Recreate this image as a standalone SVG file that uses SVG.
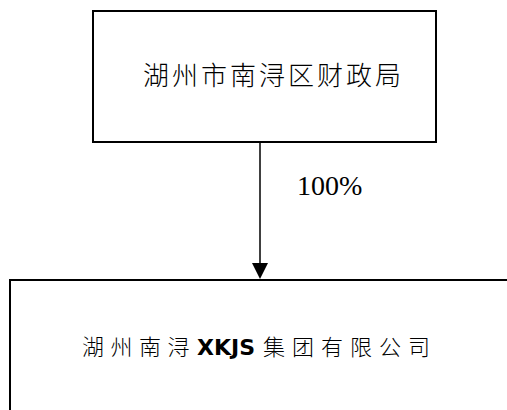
<svg xmlns="http://www.w3.org/2000/svg" width="507" height="410" viewBox="0 0 507 410">
<style>
.box{fill:#fff;stroke:#000;stroke-width:2}
.cjk{font-family:"Noto Sans CJK SC","Noto Sans",sans-serif;fill:#000;font-weight:300}
.lat{font-family:"DejaVu Sans",sans-serif;font-weight:bold}
.lbl{font-family:"Liberation Serif",serif;fill:#000}
</style>
<rect width="507" height="410" fill="#fff"/>
<g id="node-finance">
<rect class="box" x="93" y="11" width="343" height="131"/>
<text class="cjk" x="143" y="85" font-size="26" letter-spacing="3">湖州市南浔区财政局</text>
</g>
<g id="node-group">
<rect class="box" x="10" y="280" width="520" height="150"/>
<text class="cjk" font-size="22" y="355"><tspan x="82" letter-spacing="6.5">湖州南浔</tspan><tspan class="lat" x="197" letter-spacing="0">XKJS</tspan><tspan x="263" letter-spacing="7">集团有限公司</tspan></text>
</g>
<g id="connectors">
<line x1="260" y1="142" x2="260" y2="265" stroke="#000" stroke-width="1.5"/>
<polygon points="252,263 268,263 260,279" fill="#000"/>
<text class="lbl" x="297" y="195" font-size="28">100%</text>
</g>
</svg>
